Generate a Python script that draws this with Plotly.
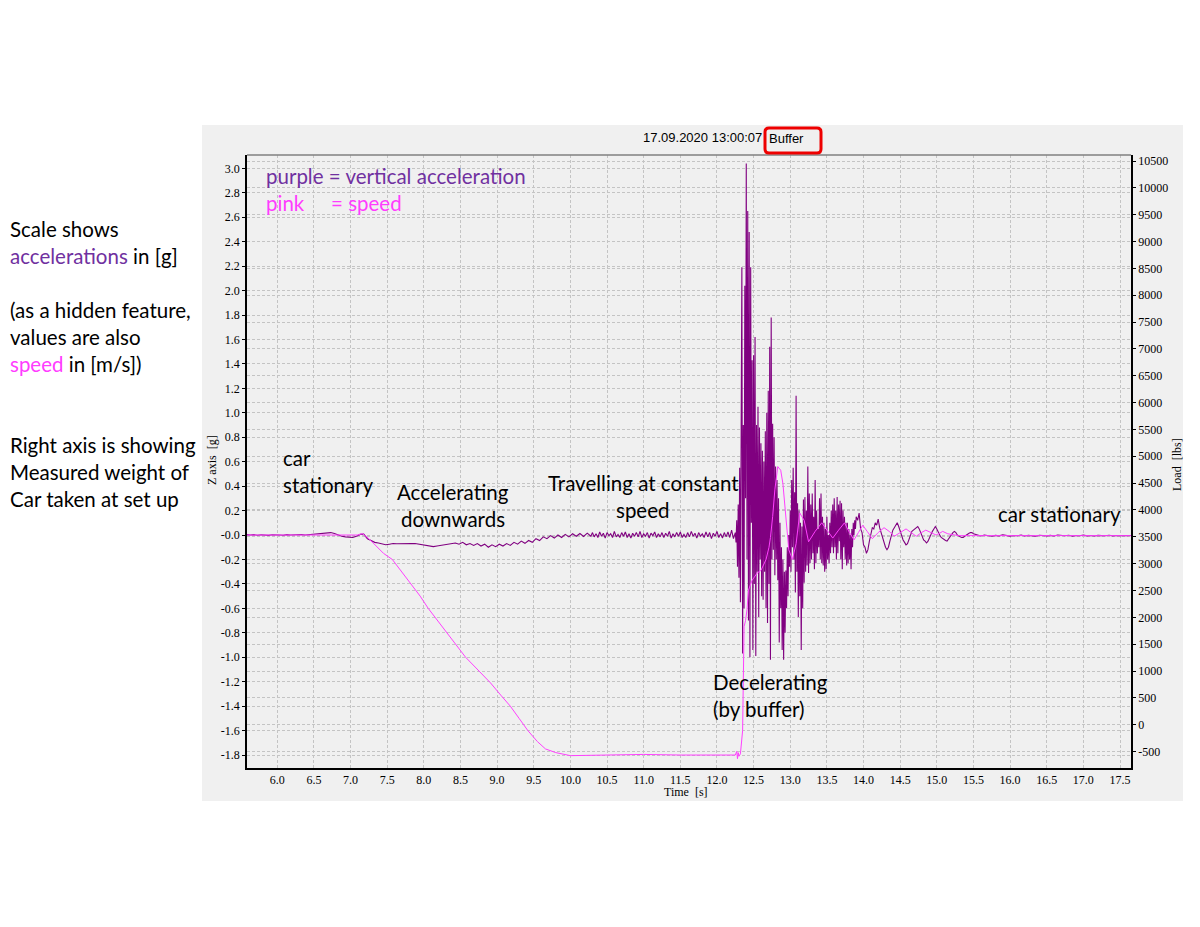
import plotly.graph_objects as go

# the page body has an 8px margin, so the figure is drawn inside 1184 x 911
OFF = 8
W, H = 1184, 911

# ---------------- data ----------------
# speed (pink), plotted on the g scale
speed_t = [5.58, 6.0, 6.5, 6.75, 7.0, 7.1, 7.16, 7.25, 7.35, 7.45, 7.57, 7.7, 7.82, 7.95, 8.06, 8.2, 8.32,
           8.45, 8.57, 8.7, 8.8, 8.91, 9.05, 9.18, 9.3, 9.42, 9.55, 9.66, 9.8, 9.9, 10.0, 10.5, 11.0, 11.5,
           12.0, 12.25, 12.27, 12.28, 12.29, 12.30, 12.32, 12.34, 12.35, 12.37, 12.39, 12.41, 12.43, 12.48,
           12.55, 12.60, 12.64, 12.67, 12.71, 12.73, 12.76, 12.79, 12.83, 12.87, 12.90, 12.94, 12.98, 13.03,
           13.08, 13.13, 13.19, 13.25, 13.34, 13.43, 13.51, 13.58, 13.66, 13.74, 13.80, 13.87, 13.93, 13.99,
           14.05, 14.12, 14.20, 14.28, 14.35, 14.42, 14.50, 14.58, 14.65, 14.72, 14.79, 14.85, 14.92, 14.99,
           15.04, 15.08, 15.15, 15.30, 16.0, 17.0, 17.66]
speed_g = [0.0, 0.0, 0.0, 0.005, 0.0, 0.0, 0.012, -0.03, -0.09, -0.15, -0.2, -0.3, -0.4, -0.5, -0.6, -0.71,
           -0.8, -0.9, -1.0, -1.08, -1.14, -1.21, -1.31, -1.40, -1.50, -1.60, -1.69, -1.75, -1.78, -1.795,
           -1.805, -1.80, -1.795, -1.80, -1.80, -1.80, -1.77, -1.83, -1.78, -1.81, -1.79, -1.66, -1.60, -0.75,
           -0.70, -0.61, -0.45, -0.37, -0.31, -0.29, -0.245, -0.20, -0.10, -0.02, 0.15, 0.37, 0.56, 0.53,
           0.42, 0.15, -0.12, -0.20, -0.07, 0.18, 0.12, -0.055, 0.03, 0.10, 0.03, -0.025, 0.04, 0.10, 0.03,
           -0.04, 0.02, 0.08, 0.03, -0.03, 0.02, 0.06, 0.03, -0.01, 0.02, 0.05, 0.02, -0.01, 0.02, 0.04, 0.02,
           0.0, 0.015, 0.03, 0.01, -0.005, -0.005, -0.005, -0.005]

# vertical acceleration (purple): sampled segments (start time, sample step, values in g)
accel_quiet_start = (5.58, 0.05, [
    0.004, 0.0, 0.003, -0.002, 0.002, 0.0, -0.003, 0.002, 0.004, 0.0,
    -0.002, 0.003, 0.0, 0.002, -0.002, 0.004, 0.0, 0.003, 0.005, 0.004,
    0.006, 0.01, 0.015, 0.02, 0.012, 0.0, -0.01, -0.015, -0.018, -0.02, -0.01, 0.005, 0.008])
accel_speeding_up = (7.23, 0.05, [
    -0.03, -0.045, -0.06, -0.065, -0.075, -0.08, -0.075, -0.07, -0.072, -0.07, -0.068, -0.072, -0.07,
    -0.07, -0.075, -0.082, -0.088, -0.092, -0.095, -0.09, -0.085, -0.08, -0.078, -0.072, -0.065, -0.075,
    -0.06, -0.08, -0.07, -0.085, -0.07, -0.09, -0.075, -0.1, -0.08, -0.095, -0.075, -0.09, -0.07, -0.085,
    -0.06, -0.075, -0.05, -0.068, -0.045, -0.06, -0.03, -0.045, -0.015, -0.03, -0.005, -0.025, 0.0, -0.02,
    0.005, -0.015, 0.01, -0.01, 0.012, -0.012, 0.015, -0.01])
accel_constant = (10.30, 0.025, [
    0.02, -0.015, 0.01, -0.02, 0.025, -0.01, 0.015, -0.025, 0.02, -0.005, 0.01, -0.02, 0.03, -0.015,
    0.005, -0.02, 0.02, -0.01, 0.025, -0.02, 0.01, -0.025, 0.015, -0.01, 0.02, -0.015, 0.03, -0.02, 0.01,
    -0.01, 0.02, -0.025, 0.015, -0.005, 0.025, -0.02, 0.01, -0.015, 0.02, -0.02, 0.015, -0.01, 0.03,
    -0.025, 0.01, -0.015, 0.02, -0.01, 0.025, -0.02, 0.005, -0.02, 0.02, -0.015, 0.03, -0.01, 0.015,
    -0.025, 0.02, -0.01, 0.01, -0.02, 0.025, -0.015, 0.02, -0.03, 0.015, -0.01, 0.03, -0.02, 0.01,
    -0.025, 0.02, -0.015, 0.025, -0.02, 0.04, -0.03])
accel_buffer_hit = (12.25, 0.01, [
    0.02, -0.06, 0.12, -0.26, 0.25, -0.35, 0.55, -0.55, 1.58, 2.19, -0.97, 0.9, -0.6, 2.04, 0.3,
    3.04, -0.2, 2.65, -0.7, 2.48, -1.0, 2.19, 0.1, 1.43, -0.94,
    1.47, -0.4, 1.62, -0.99, 0.9, -0.3, 1.05, -0.67, 0.88, -0.2,
    0.75, -0.5, 0.69, -0.53, 0.6, -0.3, 0.85, -0.6, 1.0, -0.72,
    1.18, -0.4, 1.54, -1.02, 1.78, -0.2, 0.91, -0.12, 0.8, -0.33,
    0.56, -0.2, 0.45, -0.37, 0.3, -0.88, 0.1, -0.6, -0.1, -0.94,
    -0.2, -1.02, -0.3, -0.8, -0.29, -0.6, -0.1, -0.5, 0.0, -0.26,
    0.2, -0.3, 0.45, -0.1, 0.55, -0.2, 0.35, -0.47, 1.14, -0.3,
    0.26, -0.67, 0.2, -0.5, 0.1, -0.94, 0.07, -0.6, 0.29, -0.39,
    0.31, -0.3, 0.2, -0.25, 0.56, -0.31, 0.34, -0.23, 0.25, -0.2,
    0.34, -0.15, 0.15, -0.28, 0.45, -0.23, 0.2, -0.15, 0.05, -0.1,
    0.3, -0.2, 0.34, -0.23, 0.15, -0.25, 0.1, -0.3, 0.05, -0.28,
    0.15, -0.2, 0.0, -0.23, 0.1, -0.15, 0.2, -0.1, 0.25, -0.15,
    0.3, -0.1, 0.2, -0.2, 0.31, -0.15, 0.25, -0.05, 0.28, -0.2,
    0.26, -0.28, 0.2, -0.1, 0.15, -0.2, 0.1, -0.25, 0.1, -0.23,
    0.05, -0.2, 0.0, -0.28, 0.05, -0.1, 0.1, 0.0, 0.12, 0.05])
accel_ringing = (13.90, 0.02, [
    0.15, 0.12, 0.18, 0.05, 0.02, -0.08, -0.1, -0.15, -0.12, -0.05, 0.0, 0.06, 0.05, 0.1, 0.08, 0.13,
    0.06, 0.02, -0.04, -0.06, -0.1, -0.12, -0.1, -0.05, 0.0, 0.04, 0.06, 0.08, 0.1, 0.07, 0.03, -0.01,
    -0.04, -0.06, -0.08, -0.07, -0.04, 0.0, 0.03, 0.04, 0.05, 0.06, 0.07, 0.05, 0.02, -0.01, -0.04,
    -0.05, -0.065, -0.05, -0.02, 0.01, 0.03, 0.05, 0.07, 0.05, 0.02, 0.0, -0.02, -0.03, -0.04, -0.045,
    -0.05, -0.03, -0.01, 0.01, 0.02, 0.03, 0.02, 0.0, -0.01, -0.015, -0.02, -0.02, -0.01, 0.0, 0.01,
    0.015, 0.02, 0.02, 0.01])
accel_quiet_end = (15.55, 0.05, [
    -0.002, -0.008, 0.0, -0.006, -0.01, -0.003, -0.007, 0.001, -0.005, -0.009,
    -0.004, -0.006, 0.0, -0.008, -0.003, -0.006, -0.01, -0.002, -0.005, -0.007,
    -0.003, -0.008, 0.0, -0.005, -0.006, -0.002, -0.009, -0.004, -0.006, -0.001,
    -0.007, -0.004, -0.008, -0.003, -0.005, -0.006, -0.002, -0.007, -0.004, -0.006,
    -0.003, -0.005, -0.004])

accel_segments = [accel_quiet_start, accel_speeding_up, accel_constant,
                  accel_buffer_hit, accel_ringing, accel_quiet_end]

# measured car weight at rest (right axis, lbs)
load_at_rest = [3500]

x_ticks = [6.0 + 0.5 * i for i in range(24)]
g_ticks = [round(-1.8 + 0.2 * i, 1) for i in range(25)]
load_ticks = [-500 + 500 * i for i in range(23)]

annot_lines_left = ["Scale shows",
                    "<span style='color:#7030a0'>accelerations</span> in [g]",
                    "(as a hidden feature,",
                    "values are also",
                    "<span style='color:#ff3cff'>speed</span> in [m/s])",
                    "Right axis is showing",
                    "Measured weight of",
                    "Car taken at set up"]

# ---------------- build ----------------
acc_t, acc_g = [], []
for start, step, vals in accel_segments:
    for i, v in enumerate(vals):
        acc_t.append(round(start + i * step, 4))
        acc_g.append(v)

assert len(speed_t) == len(speed_g)


def px(x):
    return (x - OFF) / W


def py(y):
    return 1 - (y - OFF) / H


fig = go.Figure()
fig.add_trace(go.Scatter(x=acc_t, y=acc_g, mode="lines",
                         line=dict(color="#800080", width=1.1), hoverinfo="skip"))
fig.add_trace(go.Scatter(x=speed_t, y=speed_g, mode="lines",
                         line=dict(color="#ff40ff", width=1), hoverinfo="skip"))
# invisible reference on the load axis so that the right axis is drawn
fig.add_trace(go.Scatter(x=[acc_t[-1]], y=load_at_rest, yaxis="y2", mode="markers",
                         marker=dict(opacity=0, size=1), hoverinfo="skip"))

# plot area in pixels
L, R, T, B = 247, 1131, 155, 768
serif = "Liberation Serif"
grid = dict(showgrid=True, gridcolor="#c4c4c4", griddash="3px,2px", gridwidth=1)

fig.update_layout(
    width=W, height=H, autosize=False,
    margin=dict(l=0, r=0, t=0, b=0),
    paper_bgcolor="white", plot_bgcolor="#f0f0f0",
    showlegend=False,
    xaxis=dict(domain=[px(L), px(R)], range=[5.587, 17.65], tickvals=x_ticks,
               ticktext=[f"{v:.1f}" for v in x_ticks], ticks="",
               showline=True, linecolor="black", linewidth=1.5,
               zeroline=False, tickfont=dict(family=serif, size=12, color="black"), **grid),
    yaxis=dict(domain=[py(B), py(T)], range=[-1.906, 3.109], tickvals=g_ticks,
               ticktext=["-0.0" if v == 0 else f"{v:.1f}" for v in g_ticks],
               ticks="outside", ticklen=3, tickcolor="black", showline=True,
               linecolor="black", linewidth=1.5, zeroline=False,
               tickfont=dict(family=serif, size=12, color="black"), **grid),
    yaxis2=dict(overlaying="y", side="right", range=[-807, 10612], tickvals=load_ticks,
                ticktext=[str(v) for v in load_ticks], ticks="outside", ticklen=3,
                tickcolor="black", showline=True, linecolor="black", linewidth=1.5,
                zeroline=False, tickfont=dict(family=serif, size=12, color="black"), **grid),
)

# grey screenshot panel
shapes = [dict(type="rect", xref="paper", yref="paper", x0=px(202), x1=px(1183),
               y0=py(801), y1=py(125), fillcolor="#f0f0f0", line=dict(width=0), layer="below"),
          dict(type="line", xref="paper", yref="paper", x0=px(L), x1=px(R), y0=py(T), y1=py(T),
               line=dict(color="#808080", width=1.5))]

# red rounded box around "Buffer"
bx0, bx1, by0, by1, r = 765, 821, 128, 153, 4
pts = (f"M {px(bx0 + r)},{py(by0)} L {px(bx1 - r)},{py(by0)} Q {px(bx1)},{py(by0)} {px(bx1)},{py(by0 + r)} "
       f"L {px(bx1)},{py(by1 - r)} Q {px(bx1)},{py(by1)} {px(bx1 - r)},{py(by1)} "
       f"L {px(bx0 + r)},{py(by1)} Q {px(bx0)},{py(by1)} {px(bx0)},{py(by1 - r)} "
       f"L {px(bx0)},{py(by0 + r)} Q {px(bx0)},{py(by0)} {px(bx0 + r)},{py(by0)} Z")
shapes.append(dict(type="path", xref="paper", yref="paper", path=pts,
                   line=dict(color="#ee0000", width=3)))
fig.update_layout(shapes=shapes)

ann = []


def text(x, y, s, size=20.5, color="black", xanchor="left", family="Lato", angle=0):
    ann.append(dict(x=px(x), y=py(y), xref="paper", yref="paper", text=s, showarrow=False,
                    xanchor=xanchor, yanchor="middle", textangle=angle,
                    font=dict(family=family, size=size, color=color)))


text(764, 138, "17.09.2020 13:00:07", size=13, family="Liberation Sans", xanchor="right")
text(767, 139, "Buffer", size=13, family="Liberation Sans")
text(686, 792, "Time  [s]", size=12, family=serif, xanchor="center")
text(212, 460, "Z axis  [g]", size=12, family=serif, xanchor="center", angle=-90)
text(1177, 465, "Load  [lbs]", size=12, family=serif, xanchor="center", angle=-90)

left_y = [229, 256, 310, 337, 364, 445, 472, 499]
for yy, s in zip(left_y, annot_lines_left):
    text(8, yy, s)

text(264, 176, "purple = vertical acceleration", color="#7030a0")
text(264, 203, "pink", color="#ff3cff")
text(329, 203, "= speed", color="#ff3cff")
text(281, 458, "car")
text(281, 485, "stationary")
text(453, 492, "Accelerating", xanchor="center")
text(453, 519, "downwards", xanchor="center")
text(643, 483, "Travelling at constant", xanchor="center")
text(643, 510, "speed", xanchor="center")
text(996, 514, "car stationary")
text(711, 682, "Decelerating")
text(711, 709, "(by buffer)")

fig.update_layout(annotations=ann)
fig.write_html("out.html", config={"displayModeBar": False})
